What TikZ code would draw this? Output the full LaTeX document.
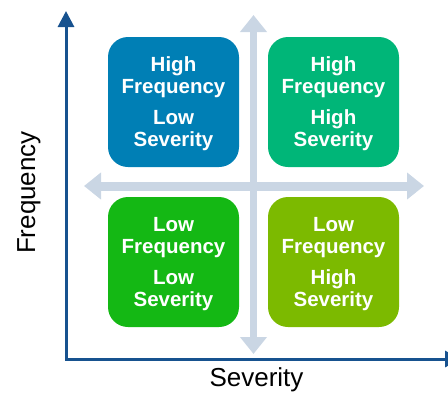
\documentclass[tikz,border=0pt]{standalone}
\usepackage{fontspec}
\setmainfont{Liberation Sans}
\usetikzlibrary{arrows.meta}
\definecolor{axisblue}{HTML}{17528F}
\definecolor{crossgray}{HTML}{CAD6E4}
\definecolor{hflsblue}{HTML}{007FB5}
\definecolor{hfhsteal}{HTML}{00B678}
\definecolor{lflsgreen}{HTML}{14B814}
\definecolor{lfhsolive}{HTML}{7CBA00}
\begin{document}
\begin{tikzpicture}[x=1pt,y=-1pt,
  quad/.style={rounded corners=20pt, minimum width=131pt, minimum height=130pt,
    text=white, font=\bfseries\fontsize{20.5}{22}\selectfont, align=center,
    inner sep=0pt, text depth=0pt},
  axislabel/.style={font=\fontsize{26}{28}\selectfont, text=black, inner sep=0pt, anchor=base},
  axisline/.style={draw=axisblue, line width=3pt,
    {Triangle[length=16pt,width=16pt]}-{Triangle[length=16pt,width=16pt]}},
  crossline/.style={draw=crossgray,
    {Triangle[length=17pt,width=26pt]}-{Triangle[length=17pt,width=26pt]}}
]
% page frame
\useasboundingbox (0,0) rectangle (448,392);

% light quadrant cross
\coordinate (vtop) at (253.5,15);
\coordinate (vbot) at (253.5,354);
\coordinate (hleft) at (84,186);
\coordinate (hright) at (424,186);
\draw[crossline, line width=7pt] (vtop) -- (vbot);
\draw[crossline, line width=9pt] (hleft) -- (hright);

% axes
\coordinate (origin) at (66,359);
\coordinate (ytip) at (66,11);
\coordinate (xtip) at (461,359);
\draw[axisline] (ytip) -- (origin) -- (xtip);

% quadrants
\node[quad, fill=hflsblue] (hfls) at (173.5,102) {High\\Frequency\\[9pt]Low\\Severity};
\node[quad, fill=hfhsteal] (hfhs) at (333.5,102) {High\\Frequency\\[9pt]High\\Severity};
\node[quad, fill=lflsgreen] (lfls) at (173.5,262) {Low\\Frequency\\[9pt]Low\\Severity};
\node[quad, fill=lfhsolive] (lfhs) at (333.5,262) {Low\\Frequency\\[9pt]High\\Severity};

% axis labels
\node[axislabel] (sev) at (256.5,386) {Severity};
\node[axislabel, rotate=90] (freq) at (35,192.5) {Frequency};
\end{tikzpicture}
\end{document}
